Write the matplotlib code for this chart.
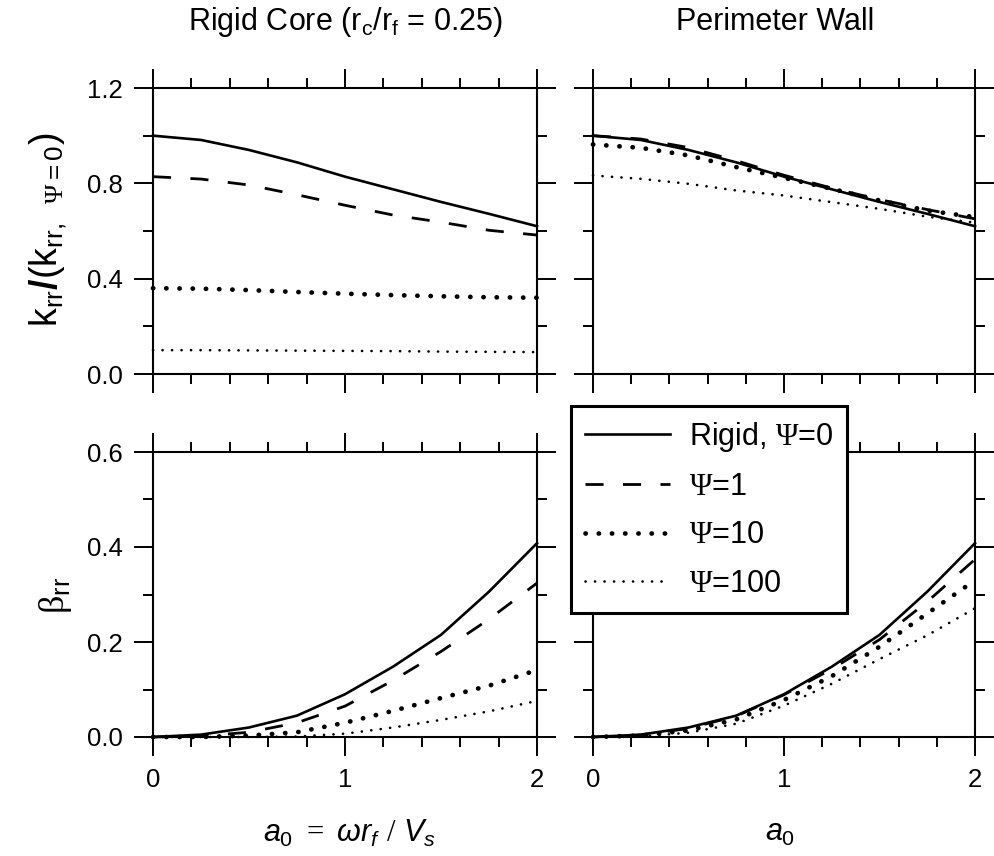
import matplotlib
matplotlib.use('Agg')
import matplotlib.pyplot as plt
from matplotlib.ticker import MultipleLocator, FormatStrFormatter
from matplotlib.lines import Line2D

plt.rcParams['font.family'] = ['Liberation Sans', 'DejaVu Sans']
plt.rcParams['mathtext.fontset'] = 'custom'
plt.rcParams['mathtext.rm'] = 'Liberation Serif'
plt.rcParams['mathtext.it'] = 'Liberation Sans:italic'
plt.rcParams['mathtext.bf'] = 'Liberation Sans:bold'
plt.rcParams['mathtext.sf'] = 'Liberation Sans'

# dimensionless frequency a0
a0 = [0.0, 0.25, 0.5, 0.75, 1.0, 1.25, 1.5, 1.75, 2.0]

# rigid foundation (same curve in both columns)
rigid_k = [1.0, 0.982, 0.940, 0.888, 0.828, 0.775, 0.722, 0.672, 0.620]
rigid_b = [0.0, 0.005, 0.020, 0.045, 0.090, 0.148, 0.215, 0.306, 0.408]

# rigid core (rc/rf = 0.25)
core_k_psi1 = [0.828, 0.818, 0.793, 0.752, 0.708, 0.667, 0.637, 0.603, 0.583]
core_k_psi10 = [0.360, 0.358, 0.352, 0.344, 0.337, 0.331, 0.326, 0.322, 0.320]
core_k_psi100 = [0.100, 0.100, 0.099, 0.098, 0.097, 0.096, 0.094, 0.093, 0.092]
core_b_psi1 = [0.0, 0.002, 0.010, 0.030, 0.065, 0.119, 0.180, 0.248, 0.324]
core_b_psi10 = [0.0, 0.0, 0.003, 0.010, 0.030, 0.055, 0.082, 0.108, 0.141]
core_b_psi100 = [0.0, 0.0, 0.0, 0.001, 0.007, 0.020, 0.036, 0.054, 0.076]

# perimeter wall
wall_k_psi1 = [1.0, 0.986, 0.950, 0.895, 0.834, 0.780, 0.732, 0.690, 0.651]
wall_k_psi10 = [0.963, 0.949, 0.917, 0.868, 0.823, 0.777, 0.728, 0.686, 0.658]
wall_k_psi100 = [0.833, 0.819, 0.798, 0.770, 0.749, 0.721, 0.693, 0.660, 0.635]
wall_b_psi1 = [0.0, 0.004, 0.018, 0.044, 0.089, 0.143, 0.205, 0.285, 0.374]
wall_b_psi10 = [0.0, 0.003, 0.014, 0.037, 0.078, 0.128, 0.190, 0.260, 0.330]
wall_b_psi100 = [0.0, 0.001, 0.009, 0.028, 0.066, 0.112, 0.164, 0.214, 0.271]

labels = ['Rigid, $\\Psi$=0', '$\\Psi$=1', '$\\Psi$=10', '$\\Psi$=100']
styles = [
    dict(color='black', lw=1.9, ls='-'),
    dict(color='black', lw=2.0, ls=(0, (6.5, 7))),
    dict(color='black', lw=3.4, ls=(0, (0.05, 2.75)), dash_capstyle='round'),
    dict(color='black', lw=1.9, ls=(0, (0.05, 3.55)), dash_capstyle='round'),
]

fig = plt.figure(figsize=(9.94, 8.56), dpi=100)
W, H = 994, 856

def box(x0, x1, ytop, ybot):
    return [x0 / W, 1 - ybot / H, (x1 - x0) / W, (ybot - ytop) / H]

ax_tl = fig.add_axes(box(153, 537, 88, 374))
ax_tr = fig.add_axes(box(593, 975, 88, 374))
ax_bl = fig.add_axes(box(153, 537, 452, 737))
ax_br = fig.add_axes(box(593, 975, 452, 737))

panels = [
    (ax_tl, [rigid_k, core_k_psi1, core_k_psi10, core_k_psi100]),
    (ax_tr, [rigid_k, wall_k_psi1, wall_k_psi10, wall_k_psi100]),
    (ax_bl, [rigid_b, core_b_psi1, core_b_psi10, core_b_psi100]),
    (ax_br, [rigid_b, wall_b_psi1, wall_b_psi10, wall_b_psi100]),
]

for ax, series in panels:
    for ys, st in zip(series, styles):
        ax.plot(a0, ys, clip_on=False, **st)
    ax.set_xlim(0, 2)
    ax.xaxis.set_major_locator(MultipleLocator(1))
    ax.xaxis.set_minor_locator(MultipleLocator(0.2))
    for sp in ax.spines.values():
        sp.set_linewidth(1.5)
    ax.tick_params(which='both', direction='out', top=True, right=True,
                   width=1.4, labelsize=18.5, pad=8)
    ax.tick_params(which='major', length=14)
    ax.tick_params(which='minor', length=7)
    ax.yaxis.set_major_formatter(FormatStrFormatter('%.1f'))
    ax.xaxis.set_major_formatter(FormatStrFormatter('%d'))

for ax in (ax_tl, ax_tr):
    ax.set_ylim(0, 1.2)
    ax.yaxis.set_major_locator(MultipleLocator(0.4))
    ax.yaxis.set_minor_locator(MultipleLocator(0.2))
    ax.tick_params(labelbottom=False)
for ax in (ax_bl, ax_br):
    ax.set_ylim(0, 0.6)
    ax.yaxis.set_major_locator(MultipleLocator(0.2))
    ax.yaxis.set_minor_locator(MultipleLocator(0.1))
for ax in (ax_tr, ax_br):
    ax.tick_params(labelleft=False)

# titles
fig.text(345 / W, 1 - 22 / H, 'Rigid Core (r$_{\\mathsf{c}}$/r$_{\\mathsf{f}}$ = 0.25)',
         ha='center', va='center', fontsize=22)
fig.text(775 / W, 1 - 22 / H, 'Perimeter Wall', ha='center', va='center', fontsize=22)

# axis labels
fig.text(48 / W, 1 - 230 / H,
         r'$\mathsf{k}_{\mathsf{rr}}\mathbf{/}\mathsf{(k}_{\mathsf{rr,\ \ }\mathrm{\Psi}\mathsf{=0}}\mathsf{)}$',
         rotation=90, ha='center', va='center', fontsize=27)
fig.text(55 / W, 1 - 595 / H, r'$\mathrm{\beta}_{\mathsf{rr}}$',
         rotation=90, ha='center', va='center', fontsize=26)
fig.text(349 / W, 1 - 833 / H, r'$a_{\mathsf{0}}\ \mathrm{=}\ \omega r_f\ /\ V_s$',
         ha='center', va='center', fontsize=22)
fig.text(780 / W, 1 - 833 / H, r'$a_{\mathsf{0}}$', ha='center', va='center', fontsize=22)

handles = [Line2D([], [], **st) for st in styles]
leg = fig.legend(handles, labels, loc='upper left', bbox_to_anchor=(571 / W, 1 - 406 / H),
                 fontsize=22, frameon=True, fancybox=False, framealpha=1,
                 edgecolor='black', handlelength=2.8, handletextpad=0.6,
                 labelspacing=0.6, borderpad=0.45, borderaxespad=0)
leg.get_frame().set_linewidth(2.2)

plt.savefig('out.png', dpi=100)
